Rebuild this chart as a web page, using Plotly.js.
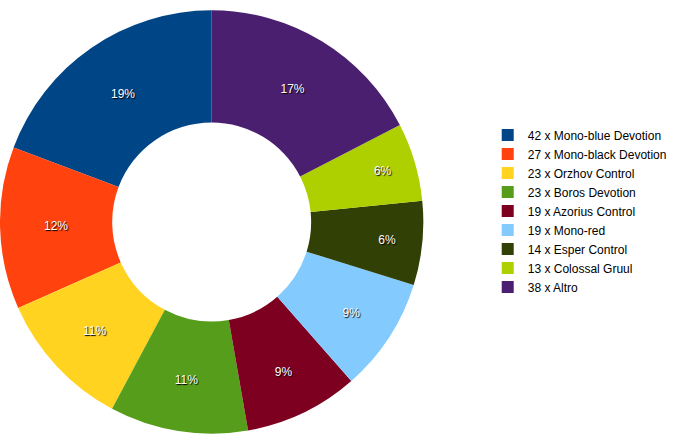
<!DOCTYPE html>
<html>
<head>
<meta charset="utf-8">
<script src="https://cdn.plot.ly/plotly-3.0.1.min.js"></script>
<style>html,body{margin:0;padding:0;background:#fff;}#chart{width:685px;height:444px;}</style>
</head>
<body>
<div id="chart"></div>
<script>
const decks = ["Mono-blue Devotion","Mono-black Devotion","Orzhov Control","Boros Devotion","Azorius Control","Mono-red","Esper Control","Colossal Gruul","Altro"];
const counts = [42, 27, 23, 23, 19, 19, 14, 13, 38];
const colors = ["#004586","#ff420e","#ffd320","#579d1c","#7e0021","#83caff","#314004","#aecf00","#4b1f6f"];
const legendLabels = decks.map((d, i) => counts[i] + " x " + d);
const total = counts.reduce((a, b) => a + b, 0);

const trace = {
  type: "pie",
  labels: legendLabels,
  values: counts,
  sort: false,
  direction: "counterclockwise",
  rotation: -360 * counts[0] / total,
  hole: 0.47,
  marker: {colors: colors, line: {width: 0}},
  texttemplate: "%{percent:.0%}",
  textposition: "inside",
  insidetextorientation: "horizontal",
  textfont: {family: "Liberation Sans, Arial, sans-serif", size: 12, color: "#ffffff", shadow: "1px 1px 1px #000000"},
  domain: {x: [0, 0.618], y: [0, 1]},
  hoverinfo: "label+percent"
};

const layout = {
  width: 685, height: 444,
  margin: {l: 0, r: 0, t: 0, b: 0},
  paper_bgcolor: "#ffffff",
  showlegend: true,
  legend: {
    x: 0.712, y: 0.525, xanchor: "left", yanchor: "middle",
    font: {family: "Liberation Sans, Arial, sans-serif", size: 12, color: "#000000"},
    bgcolor: "rgba(0,0,0,0)", tracegroupgap: 0, itemwidth: 30
  }
};

Plotly.newPlot("chart", [trace], layout, {displayModeBar: false, staticPlot: true});
</script>
</body>
</html>
